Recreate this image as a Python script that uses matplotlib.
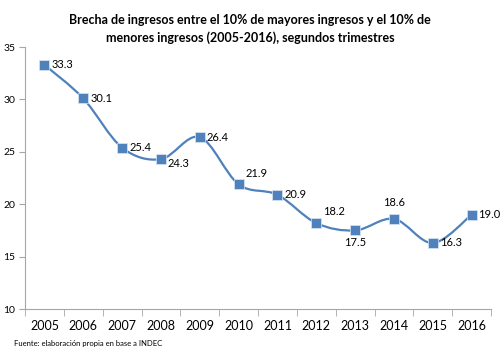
import numpy as np
import matplotlib
matplotlib.use('Agg')
from matplotlib import pyplot as plt
from matplotlib.path import Path
from matplotlib.patches import PathPatch

# Chart data
years = ['2005', '2006', '2007', '2008', '2009', '2010', '2011', '2012', '2013', '2014', '2015', '2016']
brecha = [33.3, 30.1, 25.4, 24.3, 26.4, 21.9, 20.9, 18.2, 17.5, 18.6, 16.3, 19.0]

# Label placement relative to each marker
label_pos = ['r', 'r', 'r', 'rb', 'r', 'ru', 'r', 'ru', 'b', 'u', 'r', 'r']

plt.rcParams['font.family'] = ['Lato', 'DejaVu Sans']
blue = '#4F81BD'
gray = '#A6A6A6'

fig = plt.figure(figsize=(5, 3.62), dpi=100)
ax = fig.add_axes([0.05, 0.1464, 0.932, 0.7236])

x = np.arange(len(years))
y = np.array(brecha)

# Smoothed line (Catmull-Rom converted to cubic Bezier segments)
pts = np.column_stack([x, y])
verts = [pts[0]]
codes = [Path.MOVETO]
for i in range(len(pts) - 1):
    p0 = pts[i - 1] if i > 0 else pts[i]
    p1 = pts[i]
    p2 = pts[i + 1]
    p3 = pts[i + 2] if i + 2 < len(pts) else pts[i + 1]
    c1 = p1 + (p2 - p0) / 6.0
    c2 = p2 - (p3 - p1) / 6.0
    verts += [c1, c2, p2]
    codes += [Path.CURVE4] * 3
ax.add_patch(PathPatch(Path(verts, codes), facecolor='none', edgecolor=blue, lw=1.6, zorder=2))

ax.plot(x, y, linestyle='none', marker='s', markersize=7.5, color=blue,
        markeredgecolor='#DCE6F2', markeredgewidth=0.5, zorder=3)

# offsets in points for each placement
offsets = {'r': (5, 0, 'left', 'center'),
           'rb': (5, -3, 'left', 'center'),
           'ru': (5, 8, 'left', 'center'),
           'b': (0, -5, 'center', 'top'),
           'u': (0, 8, 'center', 'bottom')}
for xi, yi, pos in zip(x, y, label_pos):
    dx, dy, ha, va = offsets[pos]
    ax.annotate(f'{yi:.1f}', (xi, yi), xytext=(dx, dy), textcoords='offset points',
                ha=ha, va=va, fontsize=8)

ax.set_xlim(-0.5, len(years) - 0.5)
ax.set_ylim(10, 35)
ax.set_yticks([10, 15, 20, 25, 30, 35])
ax.set_xticks(x)
ax.set_xticklabels(years, fontsize=9)
ax.set_xticks(np.arange(-0.5, len(years)), minor=True)
ax.tick_params(axis='x', which='major', length=0, pad=8)
ax.tick_params(axis='x', which='minor', length=5, color=gray, direction='out')
ax.tick_params(axis='y', length=4, color=gray, direction='out', labelsize=7.5, pad=3)

for s in ['top', 'right']:
    ax.spines[s].set_visible(False)
for s in ['left', 'bottom']:
    ax.spines[s].set_color(gray)
    ax.spines[s].set_linewidth(0.8)

fig.text(0.5, 0.96, 'Brecha de ingresos entre el 10% de mayores ingresos y el 10% de\n'
         'menores ingresos (2005-2016), segundos trimestres',
         ha='center', va='top', fontsize=9, fontweight='bold', linespacing=1.5)
fig.text(0.028, 0.05, 'Fuente: elaboración propia en base a INDEC', ha='left', va='center',
         fontsize=5.5)

fig.savefig('out.png', dpi=100)
